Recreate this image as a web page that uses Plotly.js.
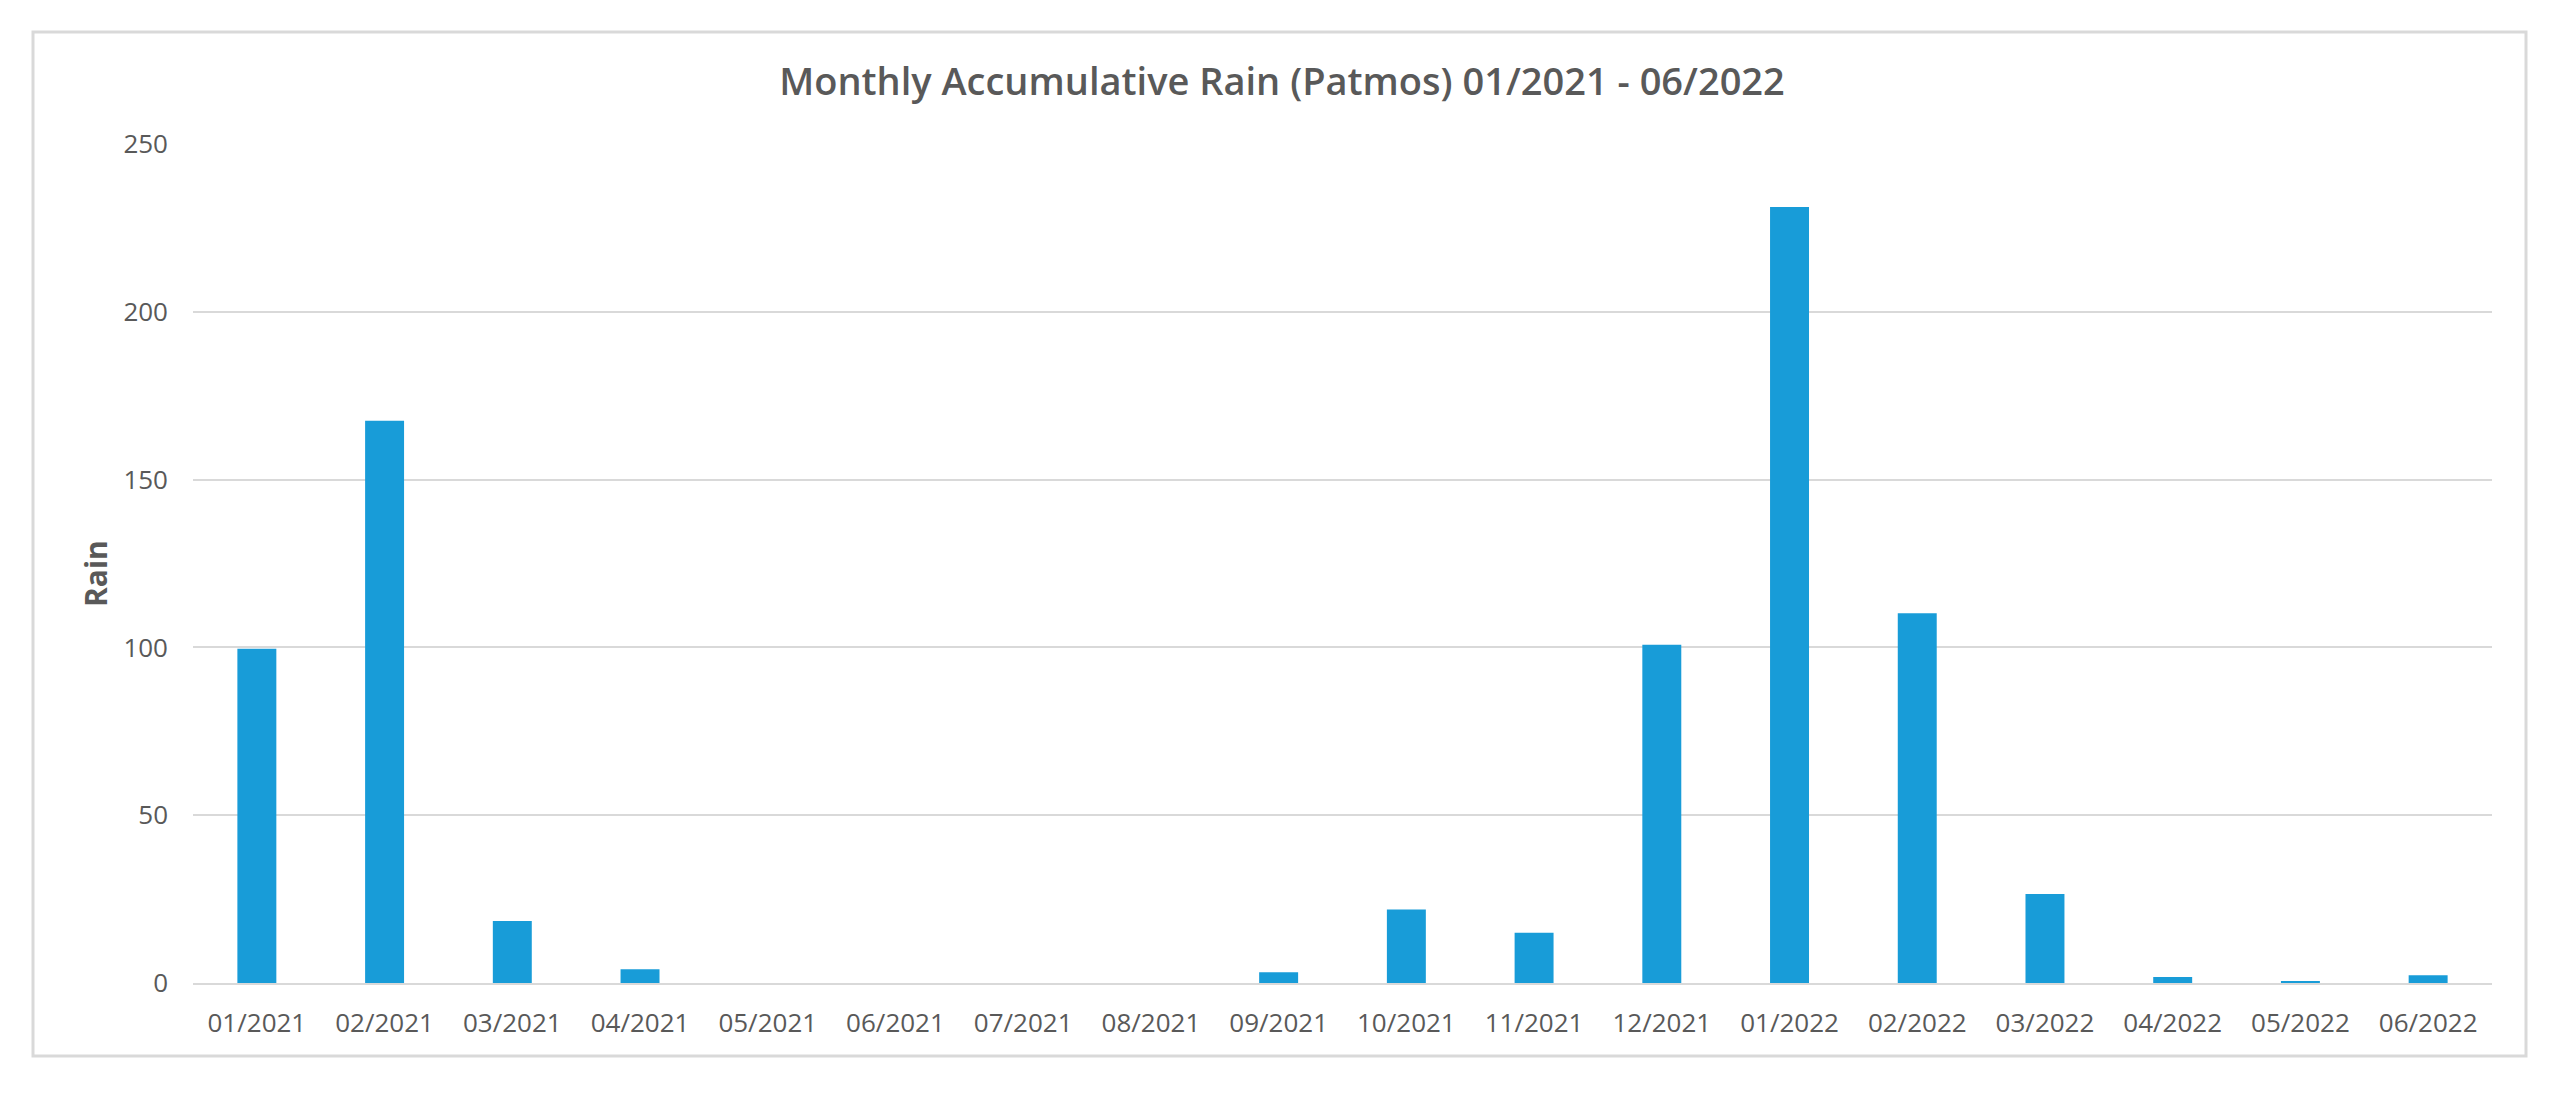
<!DOCTYPE html>
<html>
<head>
<meta charset="utf-8">
<script src="https://cdn.plot.ly/plotly-3.0.1.min.js"></script>
<style>html,body{margin:0;padding:0;background:#fff;}#chart{width:2564px;height:1097px;}</style>
</head>
<body>
<div id="chart"></div>
<script>
const months = ["01/2021","02/2021","03/2021","04/2021","05/2021","06/2021","07/2021","08/2021","09/2021","10/2021","11/2021","12/2021","01/2022","02/2022","03/2022","04/2022","05/2022","06/2022"];
const rain = [99.6,167.5,18.5,4.1,0,0,0,0,3.2,21.9,15.0,100.8,231.2,110.2,26.5,1.8,0.6,2.3];
const yTicks = [0,50,100,150,200,250];

const W = 2564, H = 1097;
const M = {l:193, r:72, t:144, b:114};
const pw = W - M.l - M.r, ph = H - M.t - M.b;
const frame = {x0:33, x1:2526, y0:32, y1:1056};
const px2x = p => (p - M.l) / pw;
const py2y = p => (H - M.b - p) / ph;

const txt = '#595959';
const data = [{
  type:'bar', x:months, y:rain,
  marker:{color:'#189CD8', line:{width:0}},
  hoverinfo:'x+y'
}];
const layout = {
  width:W, height:H,
  margin:M,
  paper_bgcolor:'#ffffff', plot_bgcolor:'#ffffff',
  bargap:0.695,
  showlegend:false,
  font:{family:'Open Sans, sans-serif', color:txt, size:26},
  title:{text:'Monthly Accumulative Rain (Patmos) 01/2021 - 06/2022',
    font:{family:'Open Sans, sans-serif', size:38, color:txt, weight:600},
    x:0.5, xref:'container', xanchor:'center',
    y:1-82/H, yref:'container', yanchor:'middle'},
  xaxis:{type:'category', tickvals:months, ticktext:months,
    showgrid:false, zeroline:false,
    showline:true, linecolor:'#D9D9D9', linewidth:2,
    ticks:'', ticklabelstandoff:16,
    tickfont:{family:'Open Sans, sans-serif', size:26, color:txt},
    fixedrange:true},
  yaxis:{range:[0,250], tickvals:yTicks, ticktext:yTicks.map(String),
    showgrid:true, gridcolor:'#D9D9D9', gridwidth:2,
    zeroline:false, showline:false, ticks:'', ticklabelstandoff:24,
    tickfont:{family:'Open Sans, sans-serif', size:26, color:txt},
    fixedrange:true},
  annotations:[{text:'Rain', xref:'paper', yref:'paper',
    x:px2x(95), y:py2y(574), xanchor:'center', yanchor:'middle',
    textangle:-90, showarrow:false,
    font:{family:'Open Sans, sans-serif', size:30, color:txt, weight:700}}],
  shapes:[{type:'rect', xref:'paper', yref:'paper',
    x0:px2x(frame.x0), x1:px2x(frame.x1), y0:py2y(frame.y1), y1:py2y(frame.y0),
    line:{color:'#D9D9D9', width:3}, fillcolor:'rgba(0,0,0,0)', layer:'below'}]
};
Plotly.newPlot('chart', data, layout, {displayModeBar:false, staticPlot:true});
</script>
</body>
</html>
